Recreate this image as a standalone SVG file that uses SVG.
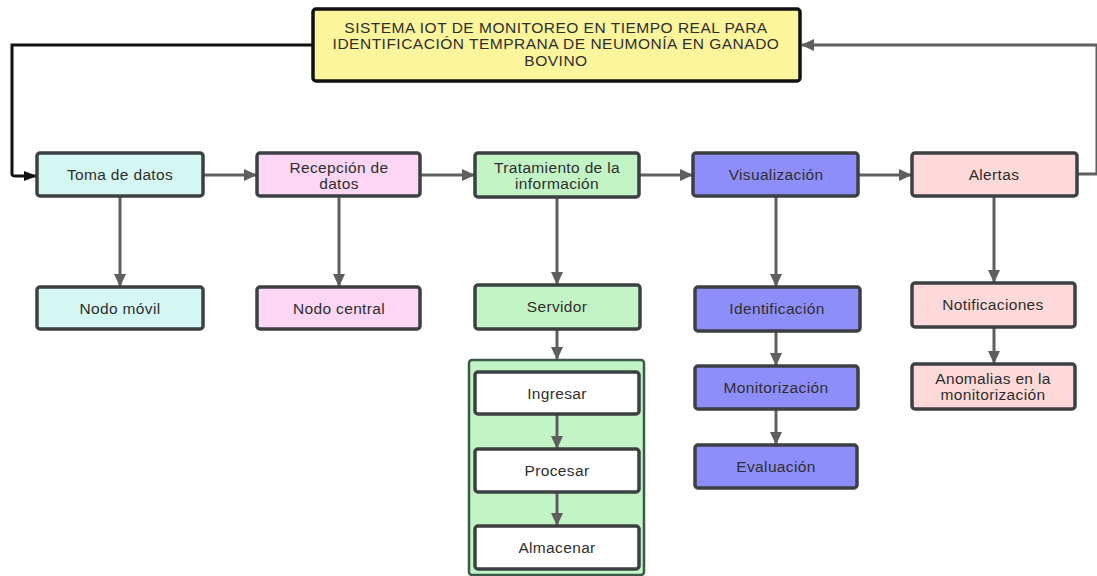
<svg xmlns="http://www.w3.org/2000/svg" width="1097" height="576" viewBox="0 0 1097 576">
<defs>
<marker id="ag" markerUnits="userSpaceOnUse" markerWidth="14" markerHeight="12" refX="12" refY="6" orient="auto"><path d="M0,0 L13,6 L0,12 Z" fill="#5f5f5f"/></marker>
<marker id="ab" markerUnits="userSpaceOnUse" markerWidth="14" markerHeight="12" refX="12" refY="6" orient="auto"><path d="M0,1 L13,6 L0,11 Z" fill="#111"/></marker>
<style>
.n{stroke:#3d4043;stroke-width:3.5}
.t{font-family:"Liberation Sans",Arial,sans-serif;font-size:15.5px;letter-spacing:0.35px;fill:#2e2e2e;text-anchor:middle;dominant-baseline:central}
.tt{letter-spacing:0.5px}
.c{fill:none;stroke:#5f5f5f;stroke-width:3;marker-end:url(#ag)}
</style>
</defs>
<rect width="1097" height="576" fill="#fff"/>
<g id="contenedor"><rect x="469" y="360" width="175" height="215" rx="3" fill="#c3f4c6" stroke="#3d5a48" stroke-width="2.5"/></g>
<g id="connectors">
<path d="M313,45 H12 V174 Q12,176 16,176 H36" fill="none" stroke="#111" stroke-width="3" marker-end="url(#ab)"/>
<path d="M1077,174 H1097 V45 H802" class="c"/>
<path d="M203,175 H256" class="c"/>
<path d="M420,175 H474" class="c"/>
<path d="M639,175 H692" class="c"/>
<path d="M858,175 H911" class="c"/>
<path d="M120,196 V286" class="c"/>
<path d="M339,196 V286" class="c"/>
<path d="M557,197 V284" class="c"/>
<path d="M557,329 V359" class="c"/>
<path d="M557,414 V448" class="c"/>
<path d="M557,492 V525" class="c"/>
<path d="M776,196 V286" class="c"/>
<path d="M776,331 V365" class="c"/>
<path d="M776,409 V444" class="c"/>
<path d="M994,196 V282" class="c"/>
<path d="M994,327 V363" class="c"/>
</g>
<g id="title"><rect x="313" y="9" width="487" height="72" rx="3" fill="#fdf59b" stroke="#111" stroke-width="3.5"/>
<text class="t tt" x="556" y="27">SISTEMA IOT DE MONITOREO EN TIEMPO REAL PARA</text>
<text class="t tt" x="556" y="43.5">IDENTIFICACIÓN TEMPRANA DE NEUMONÍA EN GANADO</text>
<text class="t tt" x="556" y="60">BOVINO</text></g>
<g id="toma"><rect class="n" x="37" y="153" width="166" height="43" rx="3" fill="#d5f7f3"/><text class="t" x="120" y="174.5">Toma de datos</text></g>
<g id="recepcion"><rect class="n" x="257" y="153" width="163" height="43" rx="3" fill="#fdd6f5"/><text class="t" x="339" y="167">Recepción de</text><text class="t" x="339" y="183">datos</text></g>
<g id="tratamiento"><rect class="n" x="475" y="153" width="164" height="44" rx="3" fill="#c3f4c6"/><text class="t" x="557" y="167">Tratamiento de la</text><text class="t" x="557" y="183.5">información</text></g>
<g id="visualizacion"><rect class="n" x="693" y="153" width="165" height="43" rx="3" fill="#8e8efb"/><text class="t" x="776" y="174.5">Visualización</text></g>
<g id="alertas"><rect class="n" x="912" y="153" width="165" height="43" rx="3" fill="#fdd9d9"/><text class="t" x="994" y="174.5">Alertas</text></g>
<g id="nodomovil"><rect class="n" x="37" y="287" width="166" height="42" rx="3" fill="#d5f7f3"/><text class="t" x="120" y="308">Nodo móvil</text></g>
<g id="nodocentral"><rect class="n" x="257" y="287" width="163" height="42" rx="3" fill="#fdd6f5"/><text class="t" x="339" y="308">Nodo central</text></g>
<g id="servidor"><rect class="n" x="475" y="285" width="165" height="44" rx="3" fill="#c3f4c6"/><text class="t" x="557" y="306">Servidor</text></g>
<g id="ingresar"><rect class="n" x="475" y="372" width="164" height="42" rx="3" fill="#fff"/><text class="t" x="557" y="393">Ingresar</text></g>
<g id="procesar"><rect class="n" x="475" y="449" width="164" height="43" rx="3" fill="#fff"/><text class="t" x="557" y="470.5">Procesar</text></g>
<g id="almacenar"><rect class="n" x="475" y="526" width="164" height="43" rx="3" fill="#fff"/><text class="t" x="557" y="547.5">Almacenar</text></g>
<g id="identificacion"><rect class="n" x="695" y="287" width="165" height="44" rx="3" fill="#8e8efb"/><text class="t" x="777" y="308">Identificación</text></g>
<g id="monitorizacion"><rect class="n" x="695" y="366" width="163" height="43" rx="3" fill="#8e8efb"/><text class="t" x="776" y="387">Monitorización</text></g>
<g id="evaluacion"><rect class="n" x="695" y="445" width="162" height="43" rx="3" fill="#8e8efb"/><text class="t" x="776" y="466">Evaluación</text></g>
<g id="notificaciones"><rect class="n" x="912" y="283" width="163" height="44" rx="3" fill="#fdd9d9"/><text class="t" x="993" y="304">Notificaciones</text></g>
<g id="anomalias"><rect class="n" x="912" y="364" width="163" height="45" rx="3" fill="#fdd9d9"/><text class="t" x="993" y="378">Anomalias en la</text><text class="t" x="993" y="394.5">monitorización</text></g>
</svg>
